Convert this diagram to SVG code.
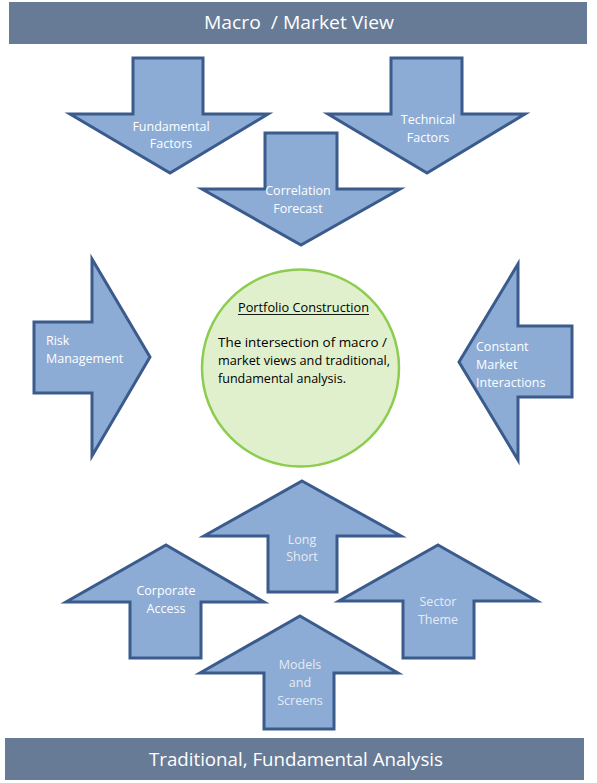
<svg xmlns="http://www.w3.org/2000/svg" width="597" height="783" viewBox="0 0 597 783">
<style>
.bar{fill:#677a96}
.bt{font-family:"Open Sans","Liberation Sans",sans-serif;font-size:18.5px;fill:#ffffff;text-anchor:middle}
.arr{fill:#8cacd6;stroke:#3a5b8c;stroke-width:3;stroke-linejoin:miter}
.at{font-family:"Open Sans","Liberation Sans",sans-serif;font-size:12.5px;fill:#ffffff;text-anchor:middle}
.ad{fill:#e6ebf3}
.ct{font-family:"Open Sans","Liberation Sans",sans-serif;font-size:12.5px;fill:#000000}
</style>
<rect width="597" height="783" fill="#ffffff"/>
<g id="top-banner">
<rect class="bar" x="9" y="2" width="578" height="42"/>
<text class="bt" x="299" y="29" textLength="190" lengthAdjust="spacingAndGlyphs">Macro&#160; / Market View</text>
</g>
<g id="fundamental-factors">
<polygon class="arr" points="133,58 203,58 203,114 268,114 170,173 70,114 133,114"/>
<text class="at" x="171" y="131">Fundamental</text>
<text class="at" x="171" y="148">Factors</text>
</g>
<g id="technical-factors">
<polygon class="arr" points="391,58 462,58 462,114 525,114 427,173 328,114 391,114"/>
<text class="at" x="428" y="124">Technical</text>
<text class="at" x="428" y="142">Factors</text>
</g>
<g id="correlation-forecast">
<polygon class="arr" points="265,133 337,133 337,189 400,189 301,245 202,189 265,189"/>
<text class="at" x="298" y="195">Correlation</text>
<text class="at" x="298" y="213">Forecast</text>
</g>
<g id="risk-management">
<polygon class="arr" points="34,322 92,322 92,259 150,357 92,456 92,393 34,393"/>
<text class="at" x="46" y="345" style="text-anchor:start">Risk</text>
<text class="at" x="46" y="363" style="text-anchor:start">Management</text>
</g>
<g id="constant-market-interactions">
<polygon class="arr" points="572,326 518,326 518,264 459,362 518,460 518,397 572,397"/>
<text class="at" x="476" y="351" style="text-anchor:start">Constant</text>
<text class="at" x="476" y="369" style="text-anchor:start">Market</text>
<text class="at" x="476" y="387" style="text-anchor:start">Interactions</text>
</g>
<g id="portfolio-construction">
<circle cx="300.5" cy="368" r="98.5" fill="#e0f0cc" stroke="#8ccc4e" stroke-width="2.5"/>
<text class="ct" x="303.5" y="312" text-anchor="middle" textLength="131" lengthAdjust="spacingAndGlyphs">Portfolio Construction</text>
<line x1="238" y1="314.5" x2="369" y2="314.5" stroke="#000" stroke-width="0.9"/>
<text class="ct" x="218" y="347" textLength="169" lengthAdjust="spacingAndGlyphs">The intersection of macro /</text>
<text class="ct" x="218" y="365" textLength="172" lengthAdjust="spacingAndGlyphs">market views and traditional,</text>
<text class="ct" x="218" y="383" textLength="128" lengthAdjust="spacingAndGlyphs">fundamental analysis.</text>
</g>
<g id="long-short">
<polygon class="arr" points="302,481 401,536 337,536 337,592 268,592 268,536 204,536"/>
<text class="at ad" x="302" y="544">Long</text>
<text class="at ad" x="302" y="561">Short</text>
</g>
<g id="corporate-access">
<polygon class="arr" points="166,545 264,602 201,602 201,658 130,658 130,602 66,602"/>
<text class="at" x="166" y="595">Corporate</text>
<text class="at" x="166" y="613">Access</text>
</g>
<g id="sector-theme">
<polygon class="arr" points="438,545 537,601 474,601 474,658 403,658 403,601 339,601"/>
<text class="at ad" x="438" y="606">Sector</text>
<text class="at ad" x="438" y="624">Theme</text>
</g>
<g id="models-and-screens">
<polygon class="arr" points="300,616 398,673 334,673 334,729 264,729 264,673 200,673"/>
<text class="at ad" x="300" y="669">Models</text>
<text class="at ad" x="300" y="687">and</text>
<text class="at ad" x="300" y="705">Screens</text>
</g>
<g id="bottom-banner">
<rect class="bar" x="5" y="738" width="579" height="42"/>
<text class="bt" x="296" y="766" textLength="294" lengthAdjust="spacingAndGlyphs">Traditional, Fundamental Analysis</text>
</g>
<g id="connectors"></g>
</svg>
